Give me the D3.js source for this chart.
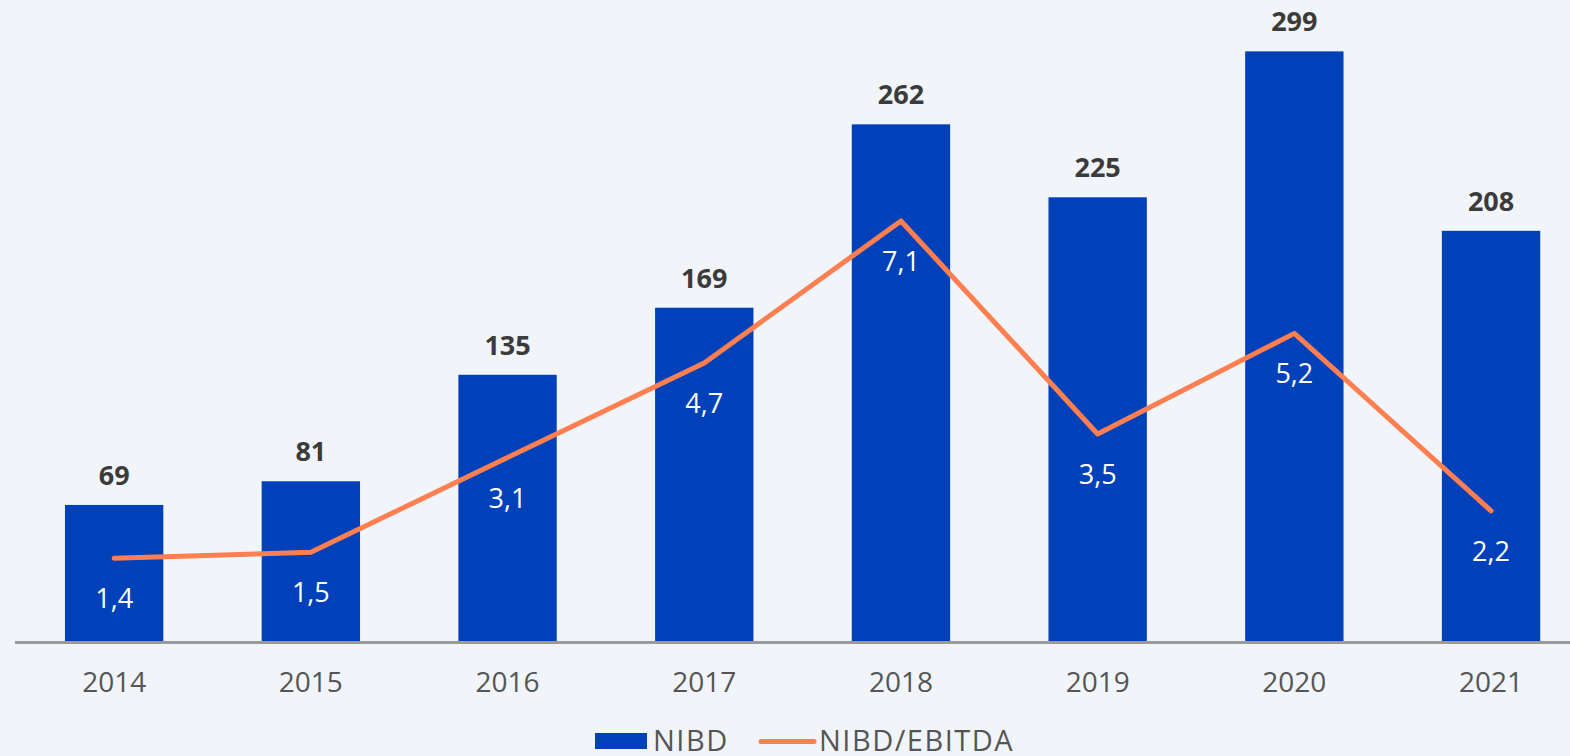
<!DOCTYPE html>
<html lang="en">
<head>
	<meta charset="UTF-8">
	<style>
	body { margin: 0; background: #f1f5f9; }
	svg { display: block; font-family: "Open Sans", sans-serif; }
	</style>
	<script src="https://d3js.org/d3.v7.min.js"></script>
	<title>NIBD</title>
</head>
<body>
	<div id="chart"></div>
	<script>
		// Chart data
		const years = ["2014", "2015", "2016", "2017", "2018", "2019", "2020", "2021"];
		const nibd = [69, 81, 135, 169, 262, 225, 299, 208];
		const ratio = [1.4, 1.5, 3.1, 4.7, 7.1, 3.5, 5.2, 2.2];
		const legendLabels = ["NIBD", "NIBD/EBITDA"];

		const width = 1570, height = 756;
		const baseY = 641;

		const svg = d3.select("#chart")
			.append("svg")
			.attr("width", width)
			.attr("height", height);

		// Scales
		const x = d3.scaleBand(years, [15.8, 1589.4]).paddingInner(0.5).paddingOuter(0.25);
		const y = d3.scaleLinear([0, 300], [baseY, 49.4]);
		const y2 = d3.scaleLinear([0, 10], [baseY, 49.4]);

		const rows = years.map((yr, i) => ({ year: yr, nibd: nibd[i], ratio: ratio[i] }));
		const cx = d => x(d.year) + x.bandwidth() / 2;

		// Bars
		svg.append("g")
			.selectAll("rect")
			.data(rows)
			.join("rect")
			.attr("x", d => x(d.year))
			.attr("y", d => y(d.nibd))
			.attr("width", x.bandwidth())
			.attr("height", d => y(0) - y(d.nibd))
			.attr("fill", "#0041ba");

		// Bar value labels
		svg.append("g")
			.selectAll("text")
			.data(rows)
			.join("text")
			.attr("x", cx)
			.attr("y", d => y(d.nibd) - 20)
			.attr("text-anchor", "middle")
			.attr("font-size", 27)
			.attr("font-weight", "bold")
			.attr("fill", "#3b3b3b")
			.text(d => d.nibd);

		// Baseline axis
		const xAxis = svg.append("g")
			.attr("transform", "translate(0," + (baseY + 1.5) + ")")
			.call(d3.axisBottom(x).tickSize(0).tickPadding(30));
		xAxis.select(".domain")
			.attr("d", "M15,0H1570")
			.attr("stroke", "#9a9a9a")
			.attr("stroke-width", 3);
		xAxis.selectAll("text")
			.attr("font-size", 28)
			.attr("font-family", "'Open Sans', sans-serif")
			.attr("fill", "#555");

		// Ratio line
		const line = d3.line()
			.x(cx)
			.y(d => y2(d.ratio));

		svg.append("path")
			.datum(rows)
			.attr("d", line)
			.attr("fill", "none")
			.attr("stroke", "#ff7f50")
			.attr("stroke-width", 5)
			.attr("stroke-linecap", "round")
			.attr("stroke-linejoin", "round");

		// Ratio labels
		svg.append("g")
			.selectAll("text")
			.data(rows)
			.join("text")
			.attr("x", cx)
			.attr("y", d => y2(d.ratio) + 50)
			.attr("text-anchor", "middle")
			.attr("font-size", 27)
			.attr("fill", "#fff")
			.text(d => d3.format(".1f")(d.ratio).replace(".", ","));

		// Legend
		const legend = svg.append("g")
			.attr("font-size", 29)
			.attr("letter-spacing", 1.5)
			.attr("fill", "#555");
		legend.append("rect")
			.attr("x", 595).attr("y", 733)
			.attr("width", 52).attr("height", 16)
			.attr("fill", "#0041ba");
		legend.append("text")
			.attr("x", 653).attr("y", 751)
			.text(legendLabels[0]);
		legend.append("line")
			.attr("x1", 761).attr("x2", 814)
			.attr("y1", 741.5).attr("y2", 741.5)
			.attr("stroke", "#ff7f50")
			.attr("stroke-width", 5)
			.attr("stroke-linecap", "round");
		legend.append("text")
			.attr("x", 819).attr("y", 751)
			.text(legendLabels[1]);
	</script>
</body>
</html>
